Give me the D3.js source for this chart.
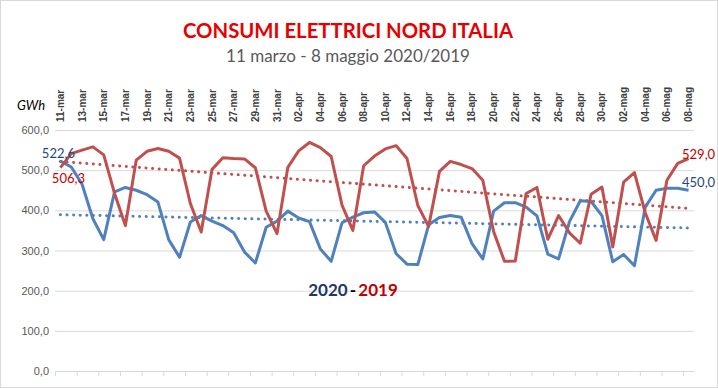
<!DOCTYPE html>
<html>
<head>
<meta charset="utf-8">
<script src="https://cdn.jsdelivr.net/npm/d3@7"></script>
<style>
  body { margin: 0; background: #fff; }
  svg { display: block; font-family: Lato, "Open Sans", sans-serif; }
</style>
</head>
<body>
<svg id="chart"></svg>
<script>
const width = 718;
const height = 388;

// days from 11 march to 8 may
const dates = [
  "11-mar","12-mar","13-mar","14-mar","15-mar","16-mar","17-mar","18-mar","19-mar","20-mar",
  "21-mar","22-mar","23-mar","24-mar","25-mar","26-mar","27-mar","28-mar","29-mar","30-mar",
  "31-mar","01-apr","02-apr","03-apr","04-apr","05-apr","06-apr","07-apr","08-apr","09-apr",
  "10-apr","11-apr","12-apr","13-apr","14-apr","15-apr","16-apr","17-apr","18-apr","19-apr",
  "20-apr","21-apr","22-apr","23-apr","24-apr","25-apr","26-apr","27-apr","28-apr","29-apr",
  "30-apr","01-mag","02-mag","03-mag","04-mag","05-mag","06-mag","07-mag","08-mag"
];

// GWh 2020
const values2020 = [
  522.6, 508, 465, 379, 327, 446, 457, 450, 439, 421,
  327, 283, 371, 387, 373, 362, 344, 296, 269, 358,
  373, 398, 381, 372, 304, 273, 369, 383, 394, 396,
  370, 292, 266, 265, 364, 382, 387, 383, 317, 279,
  398, 419, 419, 408, 386, 291, 279, 372, 424, 422,
  387, 272, 290, 262, 408, 450, 455, 455, 450.0
];

// GWh 2019
const values2019 = [
  506.3, 541, 550, 558, 538, 442, 362, 525, 547, 554,
  547, 530, 417, 346, 502, 531, 529, 528, 506, 398,
  342, 507, 548, 569, 556, 534, 413, 350, 511, 535,
  553, 561, 529, 412, 360, 497, 522, 514, 504, 475,
  347, 273, 274, 442, 457, 328, 387, 344, 318, 440,
  458, 309, 470, 494, 394, 325, 475, 517, 529.0
];

const yTicks = [0, 100, 200, 300, 400, 500, 600];

const blue = "#4f81bd", red = "#c0504d";
const blueDark = "#1f497d", redDark = "#c00000";

const svg = d3.select("#chart")
  .attr("width", width)
  .attr("height", height);

svg.append("rect")
  .attr("x", 0.5).attr("y", 0.5)
  .attr("width", width - 1).attr("height", height - 1)
  .attr("fill", "#fff")
  .attr("stroke", "#d9d9d9");

const plotLeft = 55, plotRight = 694, plotTop = 130, plotBottom = 371;

const x = d3.scaleBand().domain(dates).range([plotLeft, plotRight]).padding(0);
const xi = d3.scaleLinear().domain([0, dates.length]).range([plotLeft, plotRight]);
const y = d3.scaleLinear().domain([0, 600]).range([plotBottom, plotTop]);
const cx = d => x(d) + x.bandwidth() / 2;

// --- TITLES ---
svg.append("text")
  .attr("x", 348).attr("y", 38)
  .attr("text-anchor", "middle")
  .attr("fill", "#e60000")
  .attr("textLength", 330)
  .attr("lengthAdjust", "spacingAndGlyphs")
  .style("font-size", "20px")
  .style("font-weight", "bold")
  .text("CONSUMI ELETTRICI NORD ITALIA");

svg.append("text")
  .attr("x", 348).attr("y", 62)
  .attr("text-anchor", "middle")
  .attr("fill", "#595959")
  .style("font-size", "17px")
  .text("11 marzo - 8 maggio 2020/2019");

svg.append("text")
  .attr("x", 17).attr("y", 110)
  .attr("fill", "#000")
  .style("font-size", "13px")
  .style("font-style", "italic")
  .text("GWh");

// --- Y AXIS + GRID ---
const yAxis = svg.append("g")
  .attr("transform", `translate(${plotLeft},0)`)
  .call(d3.axisLeft(y)
    .tickValues(yTicks)
    .tickSize(-(plotRight - plotLeft))
    .tickPadding(6)
    .tickFormat(d => d3.format(".1f")(d).replace(".", ",")));
yAxis.select(".domain").remove();
yAxis.selectAll("line").attr("stroke", "#d9d9d9");
yAxis.selectAll("text")
  .attr("fill", "#595959")
  .style("font-family", "'Liberation Sans', Arial, sans-serif")
  .style("font-size", "11px");

// bottom tick marks
const xTicks = d3.range(0, dates.length, 2);
const xAxis = svg.append("g")
  .attr("transform", `translate(0,${plotBottom})`)
  .call(d3.axisBottom(xi).tickValues(xTicks).tickSize(5).tickSizeOuter(0).tickFormat(""));
xAxis.select(".domain").attr("stroke", "#d9d9d9");
xAxis.selectAll("line").attr("stroke", "#d9d9d9");

// category labels on top
svg.append("g")
  .selectAll("text")
  .data(dates.filter((d, i) => i % 2 === 0))
  .join("text")
  .attr("transform", d => `translate(${cx(d) + 3.5},122) rotate(-90)`)
  .attr("fill", "#404040")
  .style("font-family", "'Liberation Sans', Arial, sans-serif")
  .style("font-size", "10px")
  .style("font-weight", "bold")
  .text(d => d);

// --- TREND LINES (least squares) ---
function trend(vals) {
  const n = vals.length;
  const mx = d3.mean(vals, (v, i) => i);
  const my = d3.mean(vals);
  const sxy = d3.sum(vals, (v, i) => (i - mx) * (v - my));
  const sxx = d3.sum(vals, (v, i) => (i - mx) * (i - mx));
  const b = sxy / sxx;
  const a = my - b * mx;
  return [[0, a], [n - 1, a + b * (n - 1)]];
}

const trendLine = d3.line()
  .x(d => cx(dates[d[0]]))
  .y(d => y(d[1]));

[[values2019, red], [values2020, blue]].forEach(([vals, c]) => {
  svg.append("path")
    .attr("d", trendLine(trend(vals)))
    .attr("fill", "none")
    .attr("stroke", c)
    .attr("stroke-width", 3)
    .attr("stroke-linecap", "round")
    .attr("stroke-dasharray", "0.1 6.5");
});

// --- SERIES ---
const line = d3.line()
  .x((d, i) => cx(dates[i]))
  .y(d => y(d));

svg.append("path")
  .attr("d", line(values2020))
  .attr("fill", "none")
  .attr("stroke", blue)
  .attr("stroke-width", 3)
  .attr("stroke-linejoin", "round");

svg.append("path")
  .attr("d", line(values2019))
  .attr("fill", "none")
  .attr("stroke", red)
  .attr("stroke-width", 3)
  .attr("stroke-linejoin", "round");

// --- DATA LABELS ---
const last = dates.length - 1;
const fmt = v => d3.format(".1f")(v).replace(".", ",");
const labels = [
  { v: values2020[0], i: 0, dx: -2, dy: -3, c: blueDark },
  { v: values2019[0], i: 0, dx: 8, dy: 15, c: redDark },
  { v: values2019[last], i: last, dx: 10, dy: 0, c: redDark },
  { v: values2020[last], i: last, dx: 10, dy: -3, c: blueDark }
];
svg.append("g")
  .selectAll("text")
  .data(labels)
  .join("text")
  .attr("x", d => cx(dates[d.i]) + d.dx)
  .attr("y", d => y(d.v) + d.dy)
  .attr("text-anchor", "middle")
  .attr("fill", d => d.c)
  .style("font-size", "13px")
  .text(d => fmt(d.v));

// --- LEGEND TEXT ---
const leg = svg.append("text")
  .attr("x", 353).attr("y", 296)
  .attr("text-anchor", "middle")
  .style("font-size", "17px")
  .style("font-weight", "bold");
leg.append("tspan").attr("fill", "#1f3864").text("2020");
leg.append("tspan").attr("fill", "#000").text("\u2009-\u2009");
leg.append("tspan").attr("fill", redDark).text("2019");
</script>
</body>
</html>
